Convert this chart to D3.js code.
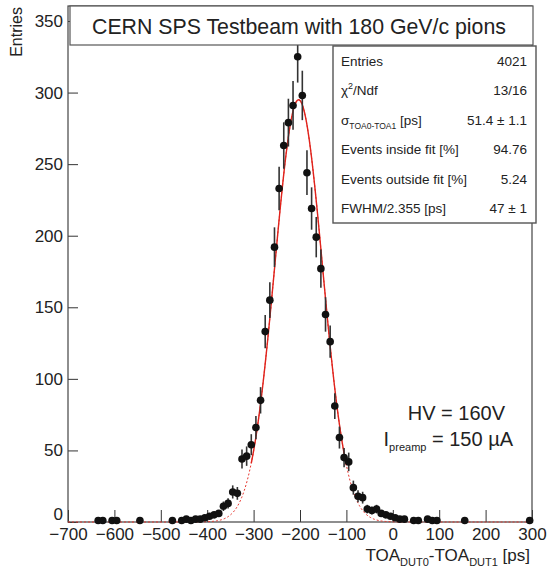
<!DOCTYPE html>
<html>
<head>
<meta charset="utf-8">
<script src="https://cdn.jsdelivr.net/npm/d3@7"></script>
<style>
  body { margin: 0; background: #fff; }
  svg { display: block; font-family: "Liberation Sans", Arial, Helvetica, sans-serif; }
</style>
</head>
<body>
<svg id="chart" width="549" height="572"></svg>
<script>
// ---- data (bin centers in ps, counts) ----
const binCenters = [-635,-625,-605,-595,-545,-475,-455,-445,-435,-425,-415,-405,-395,-385,-375,-365,-355,-345,-335,
  -325,-315,-305,-295,-285,-275,-265,-255,-245,-235,-225,-215,-205,-195,-185,-175,-165,-155,-145,-135,-125,
  -115,-105,-95,-85,-75,-65,-55,-45,-35,-25,-15,-5,5,15,25,45,55,75,85,95,155,295];
const binCounts = [1,1,1,1,1,1,1,2,1,2,2,3,4,5,6,11,13,21,20,
  44,46,54,66,85,133,155,192,233,263,279,291,325,298,244,219,199,177,145,126,81,
  59,45,42,24,18,17,9,8,9,6,5,4,3,2,2,1,1,2,1,1,1,1];
// Gaussian fit parameters (amplitude, mean, sigma) and fit range
const fitParams = { amp: 295, mean: -203, sigma: 51.4 };
const fitRange = [-305, -100];
const xTickValues = [-700,-600,-500,-400,-300,-200,-100,0,100,200,300];
const yTickValues = [0,50,100,150,200,250,300,350];
const statsLabels = ["Entries", "chi2", "sigma", "Events inside fit [%]", "Events outside fit [%]", "FWHM/2.355 [ps]"];
const statsValues = ["4021", "13/16", "51.4 \u00b1 1.1", "94.76", "5.24", "47 \u00b1 1"];

// ---- layout ----
const svg = d3.select("#chart");
const W = 549, H = 572;
const fr = { left: 68, right: 532, top: 6, bottom: 522 };
const x = d3.scaleLinear().domain([-700, 300]).range([fr.left, fr.right]);
const y = d3.scaleLinear().domain([0, 350]).range([fr.bottom, 21]);

svg.append("rect").attr("width", W).attr("height", H).attr("fill", "#fff");

// axes
const axisColor = "#333";
const gx = svg.append("g").attr("transform", `translate(0,${fr.bottom})`);
gx.call(d3.axisBottom(x).tickValues(d3.range(-700, 301, 20)).tickSize(-6).tickFormat(""));
gx.call(d3.axisBottom(x).tickValues(xTickValues).tickSize(-12).tickPadding(6).tickFormat(d3.format("d")));
gx.selectAll(".domain").remove();
gx.selectAll("line").attr("stroke", axisColor);
gx.selectAll("text").attr("font-size", 17).attr("fill", "#222").attr("font-family", null);

const gy = svg.append("g").attr("transform", `translate(${fr.left},0)`);
gy.call(d3.axisLeft(y).tickValues(d3.range(0, 361, 10)).tickSize(-5).tickFormat(""));
gy.call(d3.axisLeft(y).tickValues(yTickValues).tickSize(-10).tickPadding(5).tickFormat(d3.format("d")));
gy.selectAll(".domain").remove();
gy.selectAll("line").attr("stroke", axisColor);
gy.selectAll("text").attr("font-size", 17).attr("fill", "#222").attr("font-family", null)
  .attr("dy", d => d === 0 ? "-0.12em" : "0.32em");

// frame
svg.append("rect").attr("x", fr.left).attr("y", fr.top)
  .attr("width", fr.right - fr.left).attr("height", fr.bottom - fr.top)
  .attr("fill", "none").attr("stroke", "#444").attr("stroke-width", 1.2);

// fit curve
const gauss = v => fitParams.amp * Math.exp(-0.5 * Math.pow((v - fitParams.mean) / fitParams.sigma, 2));
const line = d3.line().x(d => x(d)).y(d => y(gauss(d)));
const fullXs = d3.range(-700, 300.01, 2);
svg.append("path").attr("d", line(fullXs)).attr("fill", "none")
  .attr("stroke", "#e8362f").attr("stroke-width", 1).attr("stroke-dasharray", "2,2");
const inXs = d3.range(fitRange[0], fitRange[1] + 0.01, 1);
svg.append("path").attr("d", line(inXs)).attr("fill", "none")
  .attr("stroke", "#e0231c").attr("stroke-width", 1.4);

// data points with error bars
const pts = binCenters.map((c, i) => ({ c, n: binCounts[i] }));
const gp = svg.append("g");
gp.selectAll("line.err").data(pts).join("line").attr("class", "err")
  .attr("x1", d => x(d.c)).attr("x2", d => x(d.c))
  .attr("y1", d => y(d.n + Math.sqrt(d.n))).attr("y2", d => y(Math.max(0, d.n - Math.sqrt(d.n))))
  .attr("stroke", "#333").attr("stroke-width", 1.6);
gp.selectAll("circle").data(pts).join("circle")
  .attr("cx", d => x(d.c)).attr("cy", d => y(d.n)).attr("r", 3.8).attr("fill", "#111");

// title box
svg.append("rect").attr("x", 70).attr("y", 6).attr("width", 463).attr("height", 39)
  .attr("fill", "#fff").attr("stroke", "#555").attr("stroke-width", 1.2);
svg.append("text").attr("x", 92).attr("y", 34).attr("font-size", 21.3).attr("fill", "#222")
  .text("CERN SPS Testbeam with 180 GeV/c pions");

// stats box
const sb = { x: 333, y: 46, w: 203, h: 177 };
svg.append("rect").attr("x", sb.x).attr("y", sb.y).attr("width", sb.w).attr("height", sb.h)
  .attr("fill", "#fff").attr("stroke", "#555").attr("stroke-width", 1.4);
const rowH = sb.h / statsLabels.length;
statsLabels.forEach((lab, i) => {
  const cy = sb.y + rowH * (i + 0.5) + 5;
  const t = svg.append("text").attr("x", sb.x + 8).attr("y", cy).attr("font-size", 13.5).attr("fill", "#222");
  if (lab === "chi2") {
    t.append("tspan").text("\u03c7");
    t.append("tspan").attr("dy", -6).attr("font-size", 9).text("2");
    t.append("tspan").attr("dy", 6).text("/Ndf");
  } else if (lab === "sigma") {
    t.append("tspan").text("\u03c3");
    t.append("tspan").attr("dy", 4).attr("font-size", 8.5).text("TOA0-TOA1");
    t.append("tspan").attr("dy", -4).text(" [ps]");
  } else {
    t.text(lab);
  }
  svg.append("text").attr("x", sb.x + sb.w - 9).attr("y", cy).attr("text-anchor", "end")
    .attr("font-size", 13.5).attr("fill", "#222").text(statsValues[i]);
});

// HV annotation
svg.append("text").attr("x", 505).attr("y", 420).attr("text-anchor", "end")
  .attr("font-size", 20).attr("fill", "#222").text("HV = 160V");
const ip = svg.append("text").attr("x", 513).attr("y", 446).attr("text-anchor", "end")
  .attr("font-size", 20).attr("fill", "#222");
ip.append("tspan").text("I");
ip.append("tspan").attr("dy", 5).attr("font-size", 11).text("preamp");
ip.append("tspan").attr("dy", -5).text(" = 150 \u00b5A");

// axis titles
const xt = svg.append("text").attr("x", 530).attr("y", 561).attr("text-anchor", "end")
  .attr("font-size", 17).attr("fill", "#222");
xt.append("tspan").text("TOA");
xt.append("tspan").attr("dy", 5).attr("font-size", 11).text("DUT0");
xt.append("tspan").attr("dy", -5).text("-TOA");
xt.append("tspan").attr("dy", 5).attr("font-size", 11).text("DUT1");
xt.append("tspan").attr("dy", -5).text(" [ps]");

svg.append("text").attr("transform", "translate(22,7) rotate(-90)").attr("text-anchor", "end")
  .attr("font-size", 16).attr("fill", "#222").text("Entries");
</script>
</body>
</html>
